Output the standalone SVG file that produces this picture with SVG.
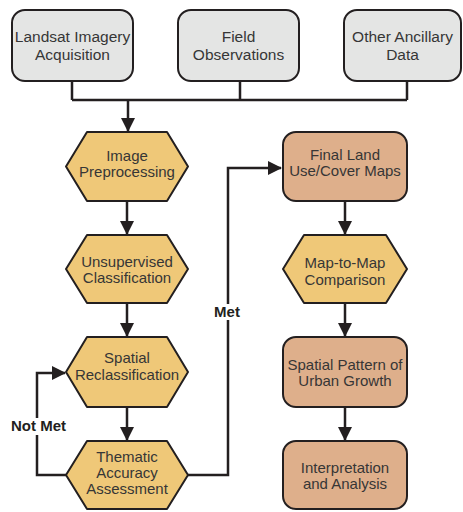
<svg xmlns="http://www.w3.org/2000/svg" width="463" height="512" viewBox="0 0 463 512">
<style>
.src{fill:#e4e5e4;stroke:#231f20;stroke-width:2}
.hex{fill:#efc878;stroke:#231f20;stroke-width:2;stroke-linejoin:round}
.out{fill:#deaf8b;stroke:#231f20;stroke-width:2}
.t{font-family:"Liberation Sans",Arial,sans-serif;font-size:15px;fill:#363636;text-anchor:middle}
.t16{font-size:15.5px}
.lbl{font-family:"Liberation Sans",Arial,sans-serif;font-size:15px;font-weight:bold;fill:#231f20;text-anchor:middle}
.c{fill:none;stroke:#231f20;stroke-width:2.5}
</style>
<defs>
<marker id="ah" markerUnits="userSpaceOnUse" markerWidth="14" markerHeight="14" viewBox="0 0 14 14" refX="13" refY="7" orient="auto">
<path d="M0,0 L14,7 L0,14 Z" fill="#231f20"/>
</marker>
</defs>
<rect width="463" height="512" fill="#ffffff"/>
<g id="connectors">
<path class="c" d="M72,81 V100 M240,81 V100 M407,81 V100 M72,100 H407"/>
<path class="c" d="M128,100 V131" marker-end="url(#ah)"/>
<path class="c" d="M127,201 V234" marker-end="url(#ah)"/>
<path class="c" d="M127,303 V336" marker-end="url(#ah)"/>
<path class="c" d="M127,407 V440" marker-end="url(#ah)"/>
<path class="c" d="M66,475 H37 V373 H65" marker-end="url(#ah)"/>
<path class="c" d="M188,475 H228 V168 H281" marker-end="url(#ah)"/>
<path class="c" d="M345,201 V234" marker-end="url(#ah)"/>
<path class="c" d="M345,303 V336" marker-end="url(#ah)"/>
<path class="c" d="M345,407 V440" marker-end="url(#ah)"/>
<rect x="8" y="418" width="61" height="17" fill="#ffffff"/>
<text class="lbl" x="38.5" y="431">Not Met</text>
<rect x="211" y="304" width="33" height="16" fill="#ffffff"/>
<text class="lbl" x="227" y="317">Met</text>
</g>
<g id="landsat">
<rect class="src" x="12" y="10" width="121" height="71" rx="13"/>
<text class="t t16" x="72.5" y="42">Landsat Imagery</text>
<text class="t t16" x="72.5" y="60">Acquisition</text>
</g>
<g id="field">
<rect class="src" x="178" y="10" width="121" height="71" rx="13"/>
<text class="t t16" x="238.5" y="42">Field</text>
<text class="t t16" x="238.5" y="60">Observations</text>
</g>
<g id="ancillary">
<rect class="src" x="344" y="10" width="117" height="71" rx="13"/>
<text class="t t16" x="402.5" y="42">Other Ancillary</text>
<text class="t t16" x="402.5" y="60">Data</text>
</g>
<g id="preprocessing">
<polygon class="hex" points="66,166.5 87,132 167,132 188,166.5 167,201 87,201"/>
<text class="t" x="127" y="161">Image</text>
<text class="t" x="127" y="177">Preprocessing</text>
</g>
<g id="unsupervised">
<polygon class="hex" points="66,269 87,235 167,235 188,269 167,303 87,303"/>
<text class="t" x="127" y="267">Unsupervised</text>
<text class="t" x="127" y="283">Classification</text>
</g>
<g id="reclassification">
<polygon class="hex" points="66,372 87,337 167,337 188,372 167,407 87,407"/>
<text class="t" x="127" y="363">Spatial</text>
<text class="t" x="127" y="380">Reclassification</text>
</g>
<g id="accuracy">
<polygon class="hex" points="66,475 87,441 167,441 188,475 167,509 87,509"/>
<text class="t" x="127" y="462">Thematic</text>
<text class="t" x="127" y="478">Accuracy</text>
<text class="t" x="127" y="494">Assessment</text>
</g>
<g id="final-maps">
<rect class="out" x="283" y="132" width="124" height="69" rx="13"/>
<text class="t" x="345" y="159.5">Final Land</text>
<text class="t" x="345" y="175.5">Use/Cover Maps</text>
</g>
<g id="comparison">
<polygon class="hex" points="283,269 304,235 386,235 407,269 386,303 304,303"/>
<text class="t" x="345" y="268">Map-to-Map</text>
<text class="t" x="345" y="285">Comparison</text>
</g>
<g id="spatial-pattern">
<rect class="out" x="283" y="337" width="124" height="70" rx="13"/>
<text class="t" x="345" y="370">Spatial Pattern of</text>
<text class="t" x="345" y="386">Urban Growth</text>
</g>
<g id="interpretation">
<rect class="out" x="283" y="441" width="124" height="68" rx="13"/>
<text class="t" x="345" y="473">Interpretation</text>
<text class="t" x="345" y="489">and Analysis</text>
</g>
</svg>
